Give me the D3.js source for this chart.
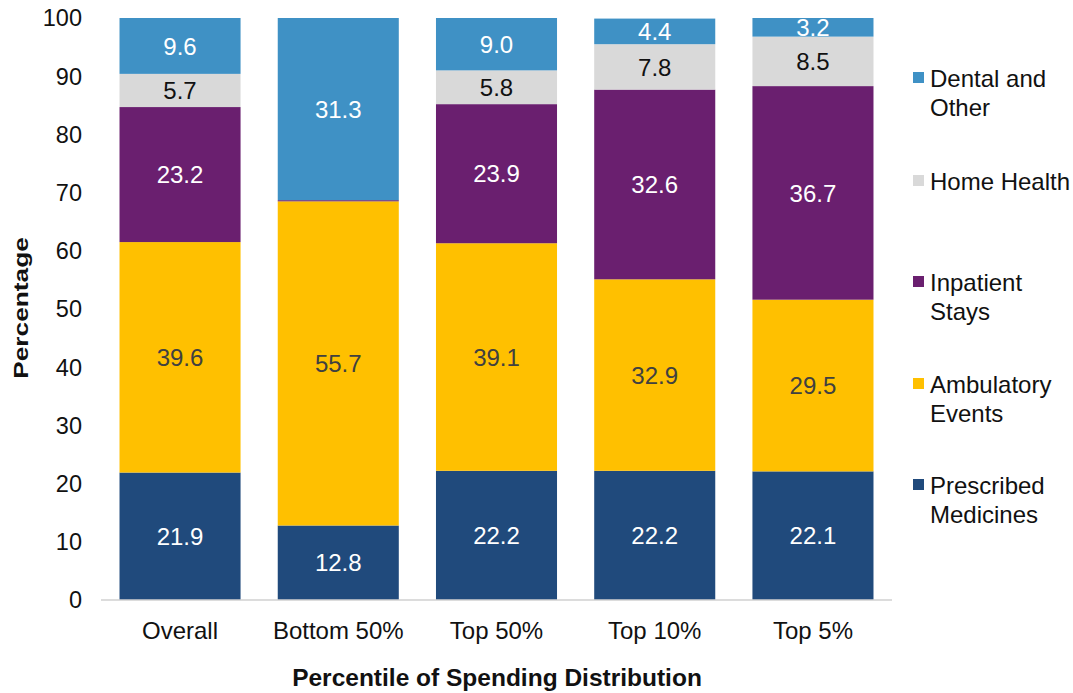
<!DOCTYPE html>
<html>
<head>
<meta charset="utf-8">
<script src="https://cdn.jsdelivr.net/npm/d3@7"></script>
<style>
body { margin: 0; background: #fff; }
text { font-family: "Liberation Sans", Arial, sans-serif; }
</style>
</head>
<body>
<div id="chart"></div>
<script>
// categories and series (bottom to top)
var groups = ["Overall", "Bottom 50%", "Top 50%", "Top 10%", "Top 5%"];
var seriesNames = ["Prescribed Medicines", "Ambulatory Events", "Inpatient Stays", "Home Health", "Dental and Other"];
var prescribed = [21.9, 12.8, 22.2, 22.2, 22.1];
var ambulatory = [39.6, 55.7, 39.1, 32.9, 29.5];
var inpatient = [23.2, 0.2, 23.9, 32.6, 36.7];
var homeHealth = [5.7, 0.0, 5.8, 7.8, 8.5];
var dental = [9.6, 31.3, 9.0, 4.4, 3.2];
var yTicks = [0, 10, 20, 30, 40, 50, 60, 70, 80, 90, 100];
var legendLines = [["Dental and", "Other"], ["Home Health"], ["Inpatient", "Stays"], ["Ambulatory", "Events"], ["Prescribed", "Medicines"]];

var colors = ["#204a7c", "#ffc000", "#6a1f6f", "#d9d9d9", "#3f91c5"];
var labelColors = ["#fff", "#404040", "#fff", "#111", "#fff"];

var W = 1073, H = 693;
var svg = d3.select("#chart").append("svg")
    .attr("width", W).attr("height", H);

var x = d3.scaleBand().domain(groups).range([101, 892]).paddingInner(0.235).paddingOuter(0.117);
var y = d3.scaleLinear().domain([0, 100]).range([600, 18]);

var allSeries = [prescribed, ambulatory, inpatient, homeHealth, dental];
var rows = groups.map(function(g, i) {
    var r = { group: g };
    seriesNames.forEach(function(s, k) { r[s] = allSeries[k][i]; });
    return r;
});
var stacked = d3.stack().keys(seriesNames)(rows);

// bars
stacked.forEach(function(layer, k) {
    var g = svg.append("g");
    g.selectAll("rect").data(layer).enter().append("rect")
        .attr("x", function(d) { return x(d.data.group); })
        .attr("y", function(d) { return y(d[1]); })
        .attr("width", x.bandwidth())
        .attr("height", function(d) { return y(d[0]) - y(d[1]); })
        .attr("fill", colors[k]);
    g.selectAll("text").data(layer.filter(function(d) { return d[1] - d[0] >= 1; })).enter().append("text")
        .attr("x", function(d) { return x(d.data.group) + x.bandwidth() / 2; })
        .attr("y", function(d) { return y((d[0] + d[1]) / 2); })
        .attr("dy", "0.36em")
        .attr("text-anchor", "middle")
        .attr("font-size", 24)
        .attr("fill", labelColors[k])
        .text(function(d) { return (d[1] - d[0]).toFixed(1); });
});

// baseline
svg.append("line")
    .attr("x1", 101).attr("x2", 892)
    .attr("y1", y(0)).attr("y2", y(0))
    .attr("stroke", "#d0d0d0").attr("stroke-width", 1.5);

// y tick labels
svg.append("g").selectAll("text").data(yTicks).enter().append("text")
    .attr("x", 82).attr("y", function(d) { return y(d); })
    .attr("dy", "0.36em")
    .attr("text-anchor", "end")
    .attr("font-size", 23.5)
    .attr("fill", "#111")
    .text(function(d) { return d; });

// x tick labels
svg.append("g").selectAll("text").data(groups).enter().append("text")
    .attr("x", function(d) { return x(d) + x.bandwidth() / 2; })
    .attr("y", 639)
    .attr("text-anchor", "middle")
    .attr("font-size", 24)
    .attr("fill", "#111")
    .text(function(d) { return d; });

// axis titles
svg.append("text")
    .attr("x", 497).attr("y", 686)
    .attr("text-anchor", "middle")
    .attr("font-size", 24.5).attr("font-weight", "bold")
    .attr("fill", "#111")
    .text("Percentile of Spending Distribution");

svg.append("text")
    .attr("transform", "translate(28,308) rotate(-90) scale(1.25,1)")
    .attr("text-anchor", "middle")
    .attr("font-size", 21).attr("font-weight", "bold")
    .attr("fill", "#111")
    .text("Percentage");

// legend
var legendY = [78, 181, 282, 384, 485];
var legendColors = [colors[4], colors[3], colors[2], colors[1], colors[0]];
legendLines.forEach(function(lines, i) {
    svg.append("rect")
        .attr("x", 913).attr("y", legendY[i] - 6)
        .attr("width", 11).attr("height", 11)
        .attr("fill", legendColors[i]);
    lines.forEach(function(t, j) {
        svg.append("text")
            .attr("x", 930).attr("y", legendY[i] + j * 29)
            .attr("dy", "0.36em")
            .attr("font-size", 24)
            .attr("fill", "#111")
            .text(t);
    });
});
</script>
</body>
</html>
